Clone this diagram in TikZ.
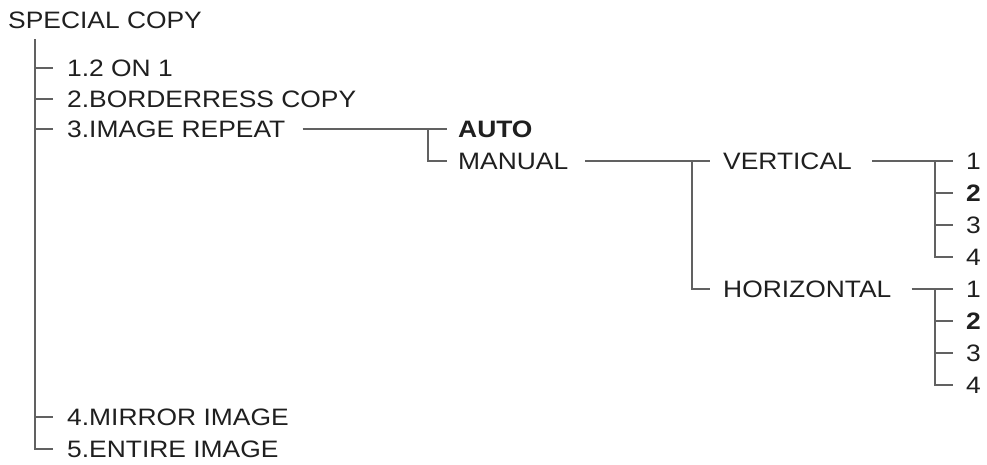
\documentclass[tikz,border=0pt]{standalone}
\usepackage{fontspec}
\setmainfont{Liberation Sans}
\usepackage{graphicx}
\newcommand\sq[1]{\scalebox{1}[0.9]{#1}}
\begin{document}
\begin{tikzpicture}[x=1pt,y=-1pt,
  lbl/.style={anchor=west,inner sep=0pt,text=black!88,font=\fontsize{26.4}{30}\selectfont},
  bl/.style={lbl,font=\fontsize{26.4}{30}\selectfont\bfseries},
  conn/.style={draw=black!62,line width=1.1pt}]
\useasboundingbox (0,0) rectangle (987,464);
% labels
\node[lbl] (root) at (8,20) {\sq{SPECIAL COPY}};
\node[lbl] (a1) at (67,68) {\sq{1.2 ON 1}};
\node[lbl] (a2) at (67,99) {\sq{2.BORDERRESS COPY}};
\node[lbl] (a3) at (67,129) {\sq{3.IMAGE REPEAT}};
\node[lbl] (a4) at (67,417) {\sq{4.MIRROR IMAGE}};
\node[lbl] (a5) at (67,449) {\sq{5.ENTIRE IMAGE}};
\node[bl] (auto) at (458,129) {\sq{AUTO}};
\node[lbl] (man) at (458,161) {\sq{MANUAL}};
\node[lbl] (vert) at (723,161) {\sq{VERTICAL}};
\node[lbl] (hor) at (723,289) {\sq{HORIZONTAL}};
\node[lbl] (v1) at (966,161) {\sq{1}};
\node[bl] (v2) at (966,193) {\sq{2}};
\node[lbl] (v3) at (966,225) {\sq{3}};
\node[lbl] (v4) at (966,257) {\sq{4}};
\node[lbl] (h1) at (966,289) {\sq{1}};
\node[bl] (h2) at (966,321) {\sq{2}};
\node[lbl] (h3) at (966,353) {\sq{3}};
\node[lbl] (h4) at (966,385) {\sq{4}};
% junctions
\coordinate (t0) at (35,39);
\coordinate (j1) at (428,129);
\coordinate (j2) at (692,161);
\coordinate (j3) at (935,161);
\coordinate (j4) at (935,289);
% main trunk
\draw[conn] (t0) |- ([xshift=-14pt]a5.west);
\foreach \n in {a1,a2,a3,a4} \draw[conn] (t0 |- \n.west) -- ([xshift=-14pt]\n.west);
% image repeat
\draw[conn] ([xshift=17pt]a3.east) -- ([xshift=-11pt]auto.west);
\draw[conn] (j1) |- ([xshift=-11pt]man.west);
% manual
\draw[conn] ([xshift=17pt]man.east) -- ([xshift=-13pt]vert.west);
\draw[conn] (j2) |- ([xshift=-13pt]hor.west);
% vertical
\draw[conn] ([xshift=20pt]vert.east) -- ([xshift=-13pt]v1.west);
\draw[conn] (j3) |- ([xshift=-13pt]v4.west);
\foreach \n in {v2,v3} \draw[conn] (j3 |- \n.west) -- ([xshift=-13pt]\n.west);
% horizontal
\draw[conn] ([xshift=20pt]hor.east) -- ([xshift=-13pt]h1.west);
\draw[conn] (j4) |- ([xshift=-13pt]h4.west);
\foreach \n in {h2,h3} \draw[conn] (j4 |- \n.west) -- ([xshift=-13pt]\n.west);
\end{tikzpicture}
\end{document}
